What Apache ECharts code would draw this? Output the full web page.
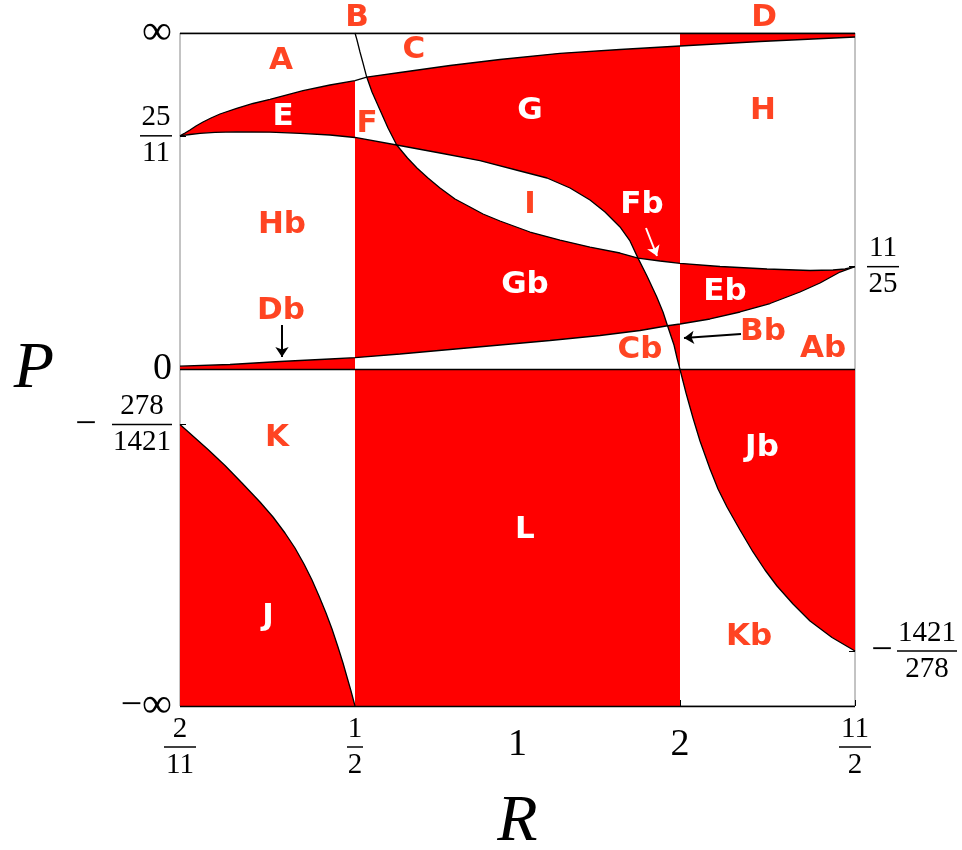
<!DOCTYPE html>
<html>
<head>
<meta charset="utf-8">
<title>R-P regions</title>
<script src="https://cdn.jsdelivr.net/npm/echarts@6/dist/echarts.min.js"></script>
</head>
<body style="margin:0;background:#fff">
<div id="main" style="width:962px;height:850px;"></div>
<script type="text/javascript">
// plot units: x = ((R-1)/(R+1)) / (9/13), y = P / (1 + |P|)
var xTicks = [-1, -0.48148, 0, 0.48148, 1];
var xTickLabels = ['2/11', '1/2', '1', '2', '11/2'];
var yLeftTicks = [1, 0.69444, 0, -0.16363, -1];
var yLeftLabels = ['∞', '25/11', '0', '-278/1421', '-∞'];
var yRightTicks = [0.30556, -0.83637];
var yRightLabels = ['11/25', '-1421/278'];

// boundary curves
var curveGamma = [[-1, 0.6944], [-0.9852, 0.7028], [-0.9704, 0.7117], [-0.9526, 0.7236], [-0.9319, 0.7355],
    [-0.9081, 0.7474], [-0.8815, 0.7593], [-0.832, 0.7762], [-0.7837, 0.7905], [-0.7333, 0.803],
    [-0.6356, 0.8285], [-0.5556, 0.8455], [-0.48148, 0.8583], [-0.4468, 0.869], [-0.3481, 0.8826],
    [-0.2, 0.9034], [-0.0519, 0.9212], [0.1259, 0.9397], [0.3037, 0.951], [0.48148, 0.9614],
    [0.7185, 0.9747], [1, 0.9881]];
var curveAlpha = [[-1, 0.6944], [-0.9704, 0.6984], [-0.9407, 0.7019], [-0.8963, 0.7049], [-0.832, 0.7064],
    [-0.7333, 0.7052], [-0.6444, 0.7019], [-0.5556, 0.6969], [-0.48148, 0.6895], [-0.3579, 0.6672],
    [-0.2296, 0.6434], [-0.1111, 0.6205], [0.0074, 0.5899], [0.0874, 0.5691], [0.1556, 0.5394],
    [0.2148, 0.5037], [0.2593, 0.4681], [0.3037, 0.4235], [0.3333, 0.3819], [0.357, 0.331],
    [0.3837, 0.2779], [0.4124, 0.2163], [0.4311, 0.1709], [0.4445, 0.13], [0.4637, 0.0728],
    [0.4726, 0.0342], [0.48148, 0], [0.4993, -0.0698], [0.52, -0.1441], [0.5407, -0.2125],
    [0.5704, -0.2957], [0.5941, -0.3551], [0.6207, -0.4086], [0.6593, -0.477], [0.6978, -0.5423],
    [0.7333, -0.5958], [0.7689, -0.6434], [0.8163, -0.6969], [0.8667, -0.7474], [0.9319, -0.7964],
    [1, -0.83637]];
var curveBeta = [[-0.48148, 1], [-0.4756, 0.9792], [-0.4667, 0.9435], [-0.4578, 0.9108], [-0.4468, 0.869],
    [-0.4311, 0.8247], [-0.4074, 0.7712], [-0.3837, 0.7177], [-0.3579, 0.6672], [-0.3259, 0.6285],
    [-0.2978, 0.5988], [-0.2652, 0.5691], [-0.2296, 0.5394], [-0.1852, 0.5067], [-0.1407, 0.4829],
    [-0.1022, 0.4621], [-0.0519, 0.4413], [0.037, 0.4086], [0.1259, 0.3848], [0.2148, 0.364],
    [0.3037, 0.3462], [0.357, 0.331], [0.4222, 0.3224], [0.48148, 0.3156], [0.6, 0.3061],
    [0.7393, 0.2987], [0.8667, 0.2942], [0.9348, 0.2957], [0.9704, 0.2987], [1, 0.30556]];
var curveDelta = [[-1, 0.0098], [-0.8519, 0.0149], [-0.7037, 0.0238], [-0.5556, 0.0312], [-0.48148, 0.0351],
    [-0.3481, 0.0461], [-0.2, 0.0594], [-0.0519, 0.0728], [0.0963, 0.0862], [0.2444, 0.101],
    [0.363, 0.1159], [0.4445, 0.13], [0.48148, 0.1352], [0.5704, 0.1501], [0.6593, 0.1709],
    [0.7481, 0.1961], [0.837, 0.2303], [0.8963, 0.2571], [0.9556, 0.2897], [1, 0.30556]];
var curveEps = [[-1, -0.16363], [-0.9585, -0.2006], [-0.917, -0.2377], [-0.8667, -0.2853], [-0.8163, -0.3373],
    [-0.763, -0.3938], [-0.7244, -0.4383], [-0.6889, -0.4859], [-0.6593, -0.5305], [-0.6326, -0.5780],
    [-0.6089, -0.6256], [-0.5881, -0.6731], [-0.5674, -0.7236], [-0.5496, -0.7712], [-0.5319, -0.8247],
    [-0.517, -0.8722], [-0.5052, -0.9138], [-0.4933, -0.9554], [-0.48148, -1]];

// region names and where they sit
var regionNames = ['A', 'B', 'C', 'D', 'E', 'F', 'G', 'H', 'Hb', 'I', 'Fb', 'Gb', 'Eb', 'Db', 'Bb', 'Cb', 'Ab',
    'K', 'L', 'Jb', 'J', 'Kb'];
var regionX = [-0.7007, -0.4756, -0.3067, 0.7304, -0.6948, -0.4459, 0.037, 0.7274, -0.6978, 0.037, 0.3689,
    0.0222, 0.6148, -0.7007, 0.7274, 0.363, 0.9052, -0.7126, 0.0222, 0.7244, -0.7393, 0.6859];
var regionY = [0.9168, 1.045, 0.9495, 1.045, 0.7504, 0.7296, 0.7682, 0.7682, 0.4294, 0.4889, 0.4889,
    0.2511, 0.2303, 0.1738, 0.1114, 0.0579, 0.0609, -0.2036, -0.477, -0.2333, -0.7355, -0.7949];
var regionRed = ['E', 'G', 'Fb', 'Gb', 'Eb', 'L', 'Jb', 'J'];

var XL = -1, XA = -0.48148, XB = 0.48148, XR = 1;
var xGB = -0.4468, xAB1 = -0.3579, xAB2 = 0.357, xAD = 0.4445;

function part(curve, x0, x1) {
    var lo = Math.min(x0, x1), hi = Math.max(x0, x1);
    var pts = curve.filter(function (p) { return p[0] >= lo - 1e-6 && p[0] <= hi + 1e-6; });
    return x0 <= x1 ? pts : pts.slice().reverse();
}

var redRegions = [
    part(curveGamma, XL, XA).concat(part(curveAlpha, XA, XL)),                               // E
    [[XB, 1], [XR, 1]].concat(part(curveGamma, XR, XB)),                                     // D
    part(curveGamma, xGB, XB).concat(part(curveBeta, XB, xAB2), part(curveAlpha, xAB2, xAB1),
        part(curveBeta, xAB1, xGB)),                                                         // G
    part(curveAlpha, XA, xAB1).concat(part(curveBeta, xAB1, xAB2), part(curveAlpha, xAB2, xAD),
        part(curveDelta, xAD, XA)),                                                          // Gb
    part(curveDelta, xAD, XB).concat([[XB, 0]], part(curveAlpha, XB, xAD)),                  // Bb
    part(curveBeta, XB, XR).concat(part(curveDelta, XR, XB)),                                // Eb
    part(curveDelta, XL, XA).concat([[XA, 0], [XL, 0]]),                                     // Db
    part(curveEps, XL, XA).concat([[XL, -1]]),                                               // J
    [[XA, 0], [XB, 0], [XB, -1], [XA, -1]],                                                  // L
    [[XB, 0], [XR, 0]].concat(part(curveAlpha, XR, XB))                                      // Jb
];

var arrows = [
    { from: [-0.6978, 0.1322], to: [-0.6978, 0.0371], color: '#000' },
    { from: [0.3807, 0.4205], to: [0.4133, 0.3373], color: '#fff' },
    { from: [0.6622, 0.1055], to: [0.4933, 0.0936], color: '#000' }
];

var SERIF = '"Liberation Serif", "DejaVu Serif", serif';

function richLabel(txt, side) {
    var neg = txt.charAt(0) === '-';
    var body = neg ? txt.slice(1) : txt;
    if (body === '∞') return (neg ? '{infm|−}' : '') + '{inf|∞}';
    if (body.indexOf('/') < 0) return '{whole|' + body + '}';
    var p = body.split('/');
    var n = Math.max(p[0].length, p[1].length);
    var w = n > 2 ? '4' : String(n);
    var pre = neg ? '{gap' + side + '|}' : '';
    return pre + '{f' + w + '|' + p[0] + '}\n' +
        (neg ? '{minus' + side + '|−}' : '') + '{b' + w + '|}\n' +
        pre + '{f' + w + '|' + p[1] + '}';
}

function lookup(ticks, labels, side) {
    return function (value) {
        var best = 0;
        for (var i = 1; i < ticks.length; i++) {
            if (Math.abs(ticks[i] - value) < Math.abs(ticks[best] - value)) best = i;
        }
        return richLabel(labels[best], side);
    };
}

function fracStyle(width) {
    return { fontFamily: SERIF, fontSize: 29, color: '#000', width: width, align: 'center', lineHeight: 30 };
}
function barStyle(width) {
    return { width: width, height: 1.5, lineHeight: 6, backgroundColor: '#000', align: 'center' };
}
function minusStyle(width) {
    return { fontFamily: SERIF, fontSize: 38, color: '#000', width: width, lineHeight: 6, align: 'center' };
}
var rich = {
    f1: fracStyle(16), f2: fracStyle(32), f4: fracStyle(60),
    b1: barStyle(16), b2: barStyle(32), b4: barStyle(60),
    gapL: { width: 52, align: 'center', lineHeight: 30 },
    gapR: { width: 30, align: 'center', lineHeight: 30 },
    minusL: minusStyle(52), minusR: minusStyle(30),
    whole: { fontFamily: SERIF, fontSize: 38, color: '#000', lineHeight: 62 },
    infm: { fontFamily: SERIF, fontSize: 38, color: '#000', lineHeight: 40 },
    inf: { fontFamily: SERIF, fontSize: 42, color: '#000', lineHeight: 40 }
};

function curveSeries(data) {
    return {
        type: 'line', data: data, showSymbol: false, silent: true, z: 5,
        lineStyle: { color: '#000', width: 1.3 }
    };
}

var chart = echarts.init(document.getElementById('main'));
var option = {
    animation: false,
    backgroundColor: '#fff',
    grid: {
        left: 180, top: 33, width: 675, height: 673, show: true, borderColor: '#888', borderWidth: 1,
        outerBoundsMode: 'none', containLabel: false
    },
    xAxis: {
        type: 'value', min: -1, max: 1, position: 'bottom',
        axisLine: { show: false, onZero: false }, splitLine: { show: false },
        axisTick: { show: true, inside: true, length: 6, customValues: xTicks, lineStyle: { color: '#000' } },
        axisLabel: { customValues: xTicks, margin: 8, formatter: lookup(xTicks, xTickLabels, 'L'), rich: rich },
        name: 'R', nameLocation: 'middle', nameGap: 84, nameMoveOverlap: false,
        nameTextStyle: { fontFamily: SERIF, fontStyle: 'italic', fontSize: 66, color: '#000' }
    },
    yAxis: [{
        type: 'value', min: -1, max: 1, position: 'left',
        axisLine: { show: false, onZero: false }, splitLine: { show: false },
        axisTick: { show: true, inside: true, length: 6, customValues: [0.69444, -0.16363], lineStyle: { color: '#000' } },
        axisLabel: { customValues: yLeftTicks, margin: 8, formatter: lookup(yLeftTicks, yLeftLabels, 'L'), rich: rich },
        name: 'P', nameLocation: 'middle', nameRotate: 0, nameGap: 126, nameMoveOverlap: false,
        nameTextStyle: { fontFamily: SERIF, fontStyle: 'italic', fontSize: 66, color: '#000' }
    }, {
        type: 'value', min: -1, max: 1, position: 'right',
        axisLine: { show: false, onZero: false }, splitLine: { show: false },
        axisTick: { show: true, inside: true, length: 6, customValues: yRightTicks, lineStyle: { color: '#000' } },
        axisLabel: { customValues: yRightTicks, margin: 12, formatter: lookup(yRightTicks, yRightLabels, 'R'), rich: rich }
    }],
    series: [{
        type: 'custom', coordinateSystem: 'cartesian2d', silent: true, z: 2,
        data: redRegions.map(function () { return [0, 0]; }),
        renderItem: function (params, api) {
            var pts = redRegions[params.dataIndex].map(function (p) { return api.coord(p); });
            return { type: 'polygon', shape: { points: pts }, style: { fill: '#ff0000' } };
        }
    },
    curveSeries(curveGamma), curveSeries(curveAlpha), curveSeries(curveBeta),
    curveSeries(curveDelta),
    {
        type: 'line', data: curveEps, showSymbol: false, silent: true, z: 5,
        lineStyle: { color: '#000', width: 1.3 },
        markLine: {
            silent: true, symbol: 'none', label: { show: false },
            lineStyle: { color: '#000', width: 1.3, type: 'solid' },
            data: [{ yAxis: 1 }, { yAxis: 0 }, { yAxis: -1 }]
        }
    }, {
        type: 'line', data: [], silent: true, z: 8,
        markLine: {
            silent: true, symbol: ['none', 'arrow'], symbolSize: 10, label: { show: false },
            data: arrows.map(function (a) {
                return [{ coord: a.from, lineStyle: { color: a.color, width: 2, type: 'solid' } }, { coord: a.to }];
            })
        }
    }, {
        type: 'custom', coordinateSystem: 'cartesian2d', silent: true, z: 10,
        data: regionNames.map(function (n, i) { return [regionX[i], regionY[i]]; }),
        renderItem: function (params, api) {
            var p = api.coord([api.value(0), api.value(1)]);
            var name = regionNames[params.dataIndex];
            return {
                type: 'text', x: p[0], y: p[1],
                style: {
                    text: name, fill: regionRed.indexOf(name) >= 0 ? '#ffffff' : '#ff4422',
                    fontFamily: '"DejaVu Sans", sans-serif', fontWeight: 'bold', fontSize: 31,
                    align: 'center', verticalAlign: 'middle'
                }
            };
        }
    }]
};
chart.setOption(option);
</script>
</body>
</html>
